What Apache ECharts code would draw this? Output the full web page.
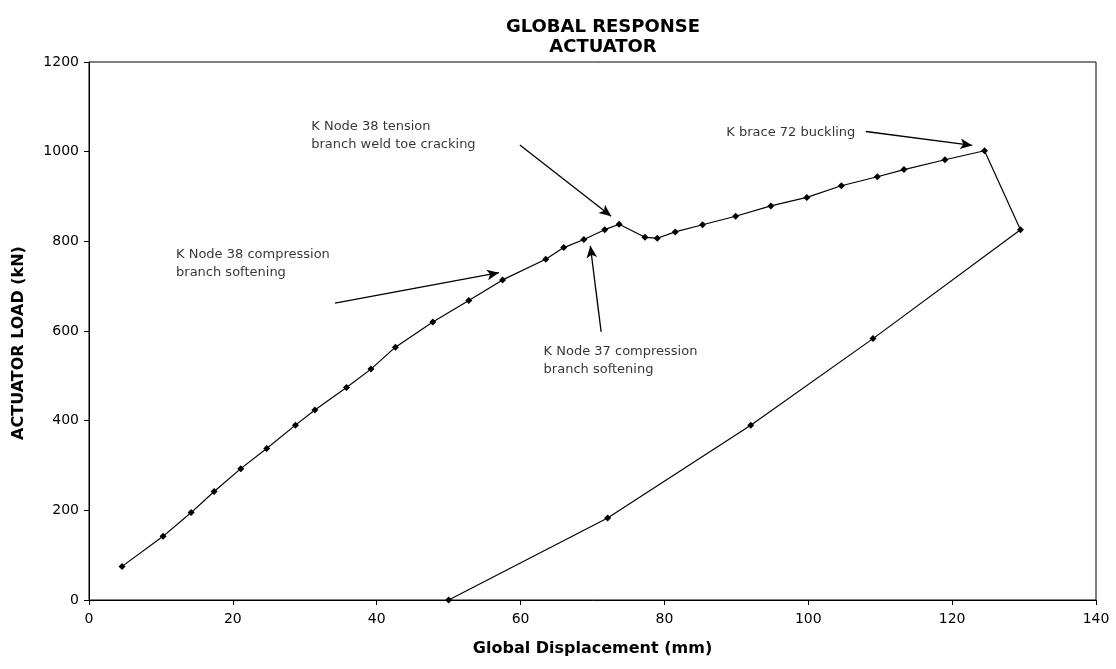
<!DOCTYPE html>
<html>
<head>
<meta charset="utf-8">
<script src="https://cdn.jsdelivr.net/npm/echarts@6/dist/echarts.min.js"></script>
<style>
  html, body { margin: 0; padding: 0; background: #fff; }
  #main { width: 1116px; height: 669px; }
</style>
</head>
<body>
<div id="main"></div>
<script>
// 位移 (mm) 和 荷载 (kN)
var displacement = [4.6, 10.3, 14.2, 17.4, 21.1, 24.7, 28.7, 31.4, 35.8, 39.2, 42.6, 47.8, 52.8, 57.5,
    63.5, 66.0, 68.8, 71.7, 73.7, 77.3, 79.0, 81.5, 85.3, 89.9, 94.8, 99.8, 104.6, 109.6, 113.3, 119.0,
    124.5, 129.5, 109.0, 92.0, 72.1, 50.0];
var load = [75, 142, 195, 242, 293, 338, 390, 424, 474, 515, 564, 620, 668, 714,
    760, 786, 804, 826, 838, 809, 807, 821, 837, 856, 879, 898, 924, 944, 960, 982,
    1002, 826, 583, 390, 183, 0];

var xTicks = [0, 140, 20];
var yTicks = [0, 1200, 200];

// 注释文字: [x, y, 文字]
var noteText = [
    [88.6, 1042, 'K brace 72 buckling'],
    [30.9, 1036, 'K Node 38 tension\nbranch weld toe cracking'],
    [12.1, 750, 'K Node 38 compression\nbranch softening'],
    [63.2, 534, 'K Node 37 compression\nbranch softening']
];
// 箭头: [x1, y1, x2, y2]
var noteArrows = [
    [108.0, 1045, 122.8, 1014],
    [59.9, 1015, 72.6, 856],
    [34.2, 662, 57.0, 730],
    [71.2, 598, 69.7, 790]
];

var myChart = echarts.init(document.getElementById('main'));

var pts = [];
for (var i = 0; i < displacement.length; i++) {
    pts.push([displacement[i], load[i]]);
}

var arrowData = noteArrows.map(function (a) {
    return [{ coord: [a[0], a[1]] }, { coord: [a[2], a[3]] }];
});

var textData = noteText.map(function (t) {
    return { value: [t[0], t[1]], label: { formatter: t[2] } };
});

var fontName = 'DejaVu Sans, Verdana, sans-serif';

option = {
    backgroundColor: '#fff',
    animation: false,
    title: {
        text: 'GLOBAL RESPONSE\nACTUATOR',
        left: 598,
        top: 12,
        textAlign: 'center',
        textStyle: {
            fontFamily: fontName,
            fontSize: 18,
            fontWeight: 'bold',
            lineHeight: 20,
            color: '#000'
        }
    },
    grid: {
        left: 89,
        right: 20,
        top: 62,
        bottom: 69,
        show: true,
        borderColor: '#000',
        borderWidth: 1
    },
    xAxis: {
        type: 'value',
        min: xTicks[0],
        max: xTicks[1],
        interval: xTicks[2],
        name: 'Global Displacement (mm)',
        nameLocation: 'middle',
        nameGap: 41,
        nameTextStyle: { fontFamily: fontName, fontSize: 16, fontWeight: 'bold', color: '#000' },
        axisLine: { lineStyle: { color: '#000', width: 1 } },
        axisTick: { length: 5, lineStyle: { color: '#000' } },
        axisLabel: { fontFamily: fontName, fontSize: 14, color: '#000', margin: 12 },
        splitLine: { show: false }
    },
    yAxis: {
        type: 'value',
        min: yTicks[0],
        max: yTicks[1],
        interval: yTicks[2],
        name: 'ACTUATOR LOAD (kN)',
        nameLocation: 'middle',
        nameGap: 62,
        nameTextStyle: {
            fontFamily: fontName, fontSize: 16, fontWeight: 'bold', color: '#000',
            padding: [0, 24, 0, 0]
        },
        axisLine: { show: true, lineStyle: { color: '#000', width: 1 } },
        axisTick: { show: true, length: 5, lineStyle: { color: '#000' } },
        axisLabel: {
            fontFamily: fontName, fontSize: 14, color: '#000', margin: 10,
            formatter: function (v) { return String(v); }
        },
        splitLine: { show: false }
    },
    series: [{
        name: 'Actuator',
        type: 'line',
        data: pts,
        symbol: 'diamond',
        symbolSize: 7,
        showSymbol: true,
        lineStyle: { color: '#000', width: 1.2 },
        itemStyle: { color: '#000' },
        markLine: {
            silent: true,
            symbol: ['none', 'arrow'],
            symbolSize: [8, 12],
            lineStyle: { color: '#000', width: 1.3, type: 'solid' },
            label: { show: false },
            data: arrowData
        }
    }, {
        name: 'notes',
        type: 'scatter',
        symbolSize: 0,
        silent: true,
        data: textData,
        label: {
            show: true,
            position: 'inside',
            align: 'left',
            verticalAlign: 'middle',
            fontFamily: fontName,
            fontSize: 13,
            lineHeight: 18,
            color: '#000'
        }
    }]
};
myChart.setOption(option);
</script>
</body>
</html>
